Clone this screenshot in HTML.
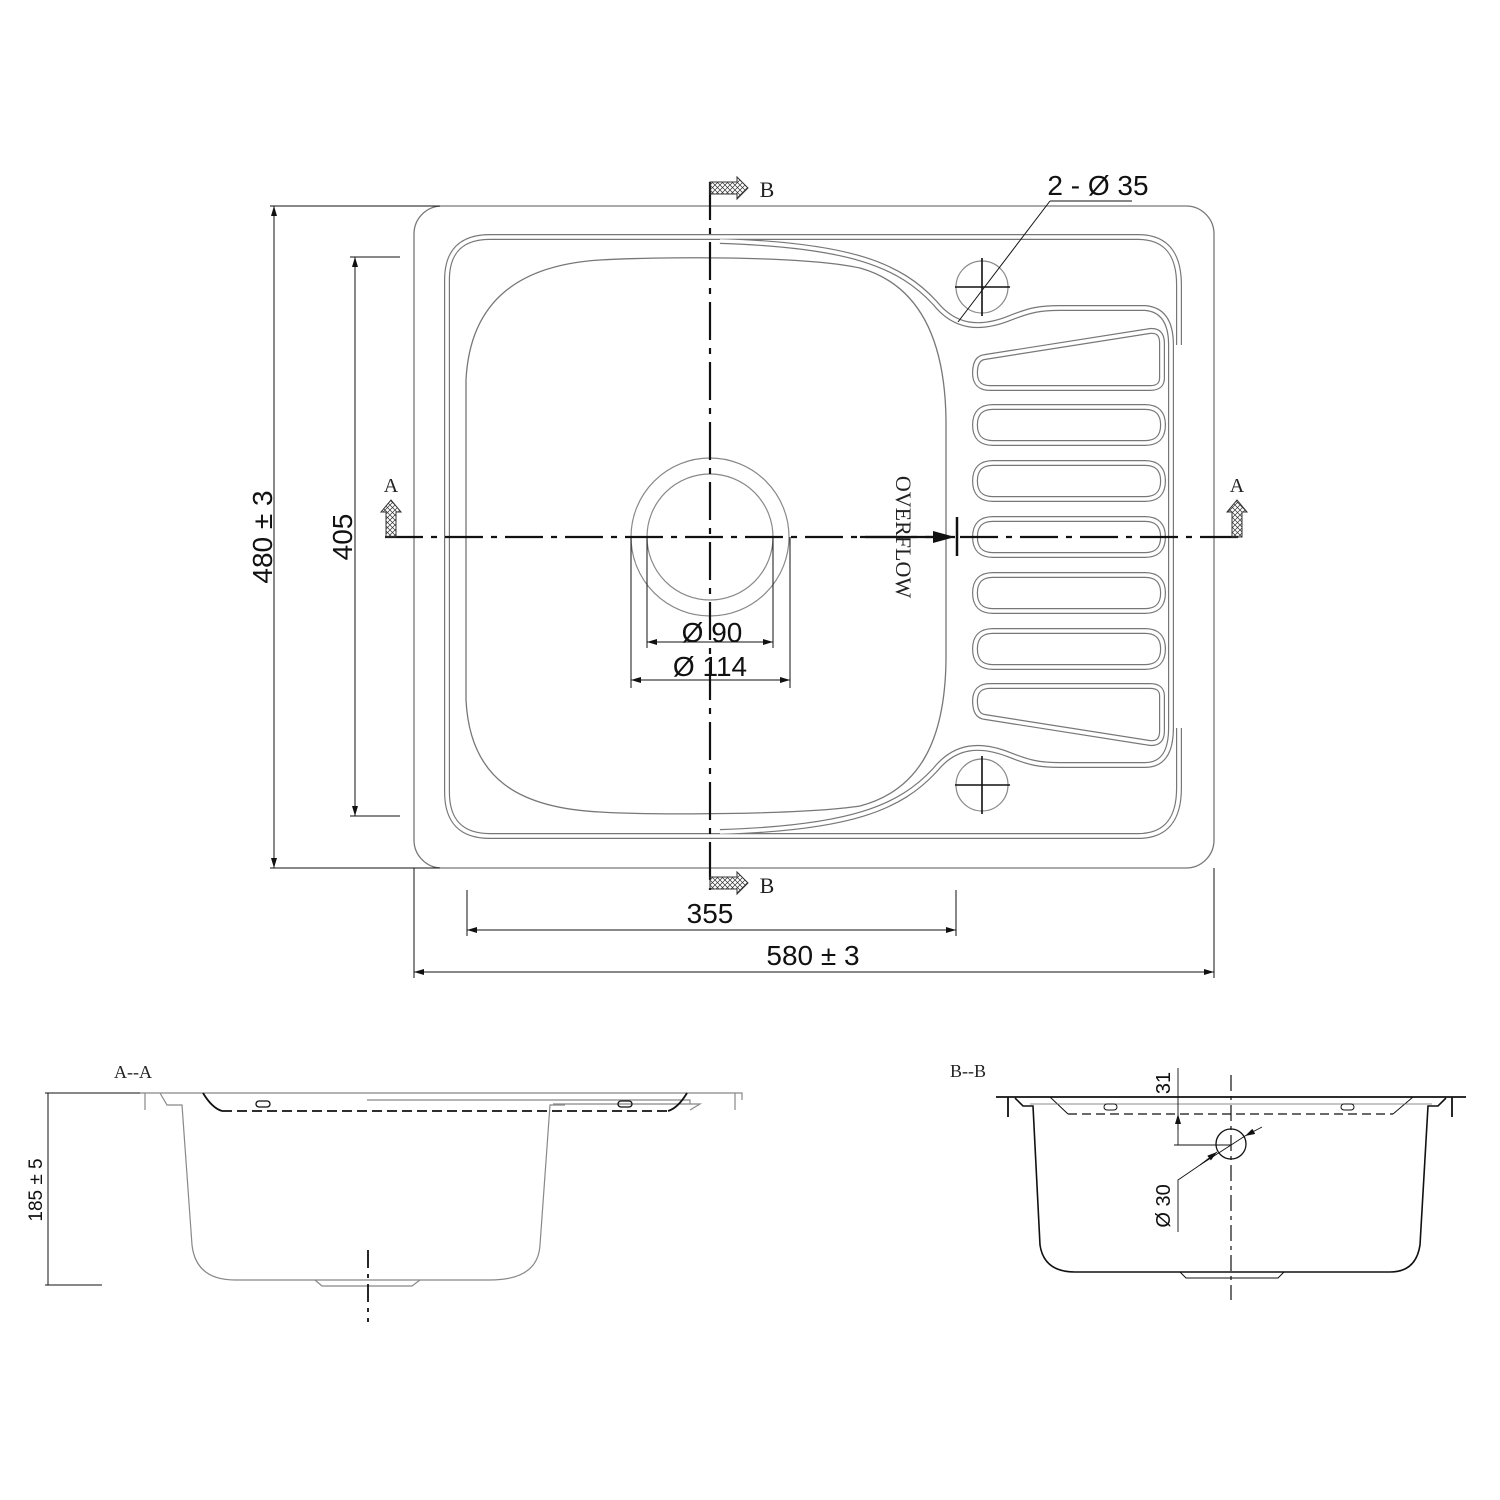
<!DOCTYPE html>
<html><head><meta charset="utf-8"><style>
html,body{margin:0;padding:0;background:#fff}
svg{display:block}
.s{font-family:"Liberation Sans",sans-serif;fill:#111}
.r{font-family:"Liberation Serif",serif;fill:#222}
</style></head><body>
<svg width="1500" height="1500" viewBox="0 0 1500 1500" xmlns="http://www.w3.org/2000/svg">
<defs>
<pattern id="h" width="5" height="5" patternUnits="userSpaceOnUse">
<path d="M0,0L5,5M5,0L0,5" stroke="#333" stroke-width="0.7"/>
</pattern>
<marker id="ar" markerWidth="10" markerHeight="6" refX="10" refY="3" orient="auto" markerUnits="userSpaceOnUse"><path d="M0,0L10,3L0,6z" fill="#111"/></marker>
<marker id="al" markerWidth="10" markerHeight="6" refX="0" refY="3" orient="auto" markerUnits="userSpaceOnUse"><path d="M10,0L0,3L10,6z" fill="#111"/></marker>
<marker id="big" markerWidth="22" markerHeight="12" refX="22" refY="6" orient="auto" markerUnits="userSpaceOnUse"><path d="M0,0L22,6L0,12z" fill="#111"/></marker>
</defs>

<!-- outer rim -->
<rect x="414" y="206" width="800" height="662" rx="28" fill="none" stroke="#777" stroke-width="1.3"/>

<!-- double groove lines -->
<g fill="none">
<g stroke="#777" stroke-width="6">
<path d="M720,237 L490,237 Q447,237 447,280 L447,792 Q447,836 490,836 L720,836"/>
<path d="M720,237 L1138,237 Q1179,237 1179,285 L1179,345"/>
<path d="M720,836 L1138,836 Q1179,836 1179,788 L1179,728"/>
<path d="M720,241 C850,245 900,265 935,303 C955,328 980,330 1010,318 C1030,310 1040,308 1060,308 L1145,308 Q1171,310 1171,345 L1171,728 Q1171,765 1145,765 L1060,765 C1040,765 1030,763 1010,755 C980,743 955,745 935,770 C900,808 850,828 720,832"/>
<path d="M985,357 L1150,331 Q1162,330 1162,343 L1162,378 Q1162,388 1150,388 L990,388 Q975,388 975,373 Q975,358 985,357 Z"/>
<path d="M993,407 L1145,407 Q1163,407 1163,425 Q1163,443 1145,443 L993,443 Q975,443 975,425 Q975,407 993,407 Z"/>
<path d="M993,463 L1145,463 Q1163,463 1163,481 Q1163,499 1145,499 L993,499 Q975,499 975,481 Q975,463 993,463 Z"/>
<path d="M993,519 L1145,519 Q1163,519 1163,537 Q1163,555 1145,555 L993,555 Q975,555 975,537 Q975,519 993,519 Z"/>
<path d="M993,575 L1145,575 Q1163,575 1163,593 Q1163,611 1145,611 L993,611 Q975,611 975,593 Q975,575 993,575 Z"/>
<path d="M993,631 L1145,631 Q1163,631 1163,649 Q1163,667 1145,667 L993,667 Q975,667 975,649 Q975,631 993,631 Z"/>
<path d="M985,717 L1150,743 Q1162,744 1162,731 L1162,696 Q1162,686 1150,686 L990,686 Q975,686 975,701 Q975,716 985,717 Z"/>
</g>
<g stroke="#fff" stroke-width="3.6">
<path d="M720,237 L490,237 Q447,237 447,280 L447,792 Q447,836 490,836 L720,836"/>
<path d="M720,237 L1138,237 Q1179,237 1179,285 L1179,345"/>
<path d="M720,836 L1138,836 Q1179,836 1179,788 L1179,728"/>
<path d="M720,241 C850,245 900,265 935,303 C955,328 980,330 1010,318 C1030,310 1040,308 1060,308 L1145,308 Q1171,310 1171,345 L1171,728 Q1171,765 1145,765 L1060,765 C1040,765 1030,763 1010,755 C980,743 955,745 935,770 C900,808 850,828 720,832"/>
<path d="M985,357 L1150,331 Q1162,330 1162,343 L1162,378 Q1162,388 1150,388 L990,388 Q975,388 975,373 Q975,358 985,357 Z"/>
<path d="M993,407 L1145,407 Q1163,407 1163,425 Q1163,443 1145,443 L993,443 Q975,443 975,425 Q975,407 993,407 Z"/>
<path d="M993,463 L1145,463 Q1163,463 1163,481 Q1163,499 1145,499 L993,499 Q975,499 975,481 Q975,463 993,463 Z"/>
<path d="M993,519 L1145,519 Q1163,519 1163,537 Q1163,555 1145,555 L993,555 Q975,555 975,537 Q975,519 993,519 Z"/>
<path d="M993,575 L1145,575 Q1163,575 1163,593 Q1163,611 1145,611 L993,611 Q975,611 975,593 Q975,575 993,575 Z"/>
<path d="M993,631 L1145,631 Q1163,631 1163,649 Q1163,667 1145,667 L993,667 Q975,667 975,649 Q975,631 993,631 Z"/>
<path d="M985,717 L1150,743 Q1162,744 1162,731 L1162,696 Q1162,686 1150,686 L990,686 Q975,686 975,701 Q975,716 985,717 Z"/>
</g>
<!-- bowl inner -->
<path d="M600,260 C650,257 800,255 860,268 C920,285 945,340 946,420 L946,660 C945,740 920,790 860,806 C800,815 650,815 600,812 C520,808 470,780 466,700 L466,380 C470,300 520,265 600,260 Z" stroke="#777" stroke-width="1.3"/>
</g>

<!-- faucet holes -->
<g fill="none">
<circle cx="982" cy="287" r="26" stroke="#888" stroke-width="1.2"/>
<circle cx="982" cy="785" r="26" stroke="#888" stroke-width="1.2"/>
<path d="M955,287H1010M982,258V316M955,785H1010M982,756V814" stroke="#111" stroke-width="1.6"/>
<path d="M1050,201H1132M1050,201L958,322" stroke="#111" stroke-width="1"/>
</g>
<text x="1098" y="195" class="s" font-size="28" text-anchor="middle">2 - Ø 35</text>

<!-- drain -->
<circle cx="710" cy="537" r="79" fill="none" stroke="#888" stroke-width="1.2"/>
<circle cx="710" cy="537" r="63" fill="none" stroke="#888" stroke-width="1.2"/>
<g stroke="#111" stroke-width="1" fill="none">
<path d="M647,537V648M773,537V648M631,537V688M790,537V688"/>
<path d="M647,642H773" marker-start="url(#al)" marker-end="url(#ar)"/>
<path d="M631,680H790" marker-start="url(#al)" marker-end="url(#ar)"/>
</g>
<text x="712" y="642" class="s" font-size="28" text-anchor="middle">Ø 90</text>
<text x="710" y="676" class="s" font-size="28" text-anchor="middle">Ø 114</text>

<!-- center lines -->
<g stroke="#111" stroke-width="2.2" fill="none">
<path d="M710,182V890" stroke-dasharray="38,8,6,8"/>
<path d="M385,537H940" stroke-dasharray="38,8,6,8"/>
<path d="M960,537H1243" stroke-dasharray="38,8,6,8"/>
<path d="M860,537H955" marker-end="url(#big)"/>
<path d="M957,517V556" stroke-width="2.5"/>
</g>
<text transform="translate(896,537) rotate(90)" class="r" font-size="22" text-anchor="middle">OVERFLOW</text>

<!-- section markers -->
<g stroke="#333" stroke-width="1" fill="url(#h)">
<path d="M386,537V512H381L391,500L401,512H396V537Z"/>
<path d="M1232,537V512H1227L1237,500L1247,512H1242V537Z"/>
<path d="M710,182H737V177L748,188L737,199V194H710Z"/>
<path d="M710,877H737V872L748,883L737,894V889H710Z"/>
</g>
<text x="391" y="492" class="r" font-size="20" text-anchor="middle">A</text>
<text x="1237" y="492" class="r" font-size="20" text-anchor="middle">A</text>
<text x="767" y="197" class="r" font-size="22" text-anchor="middle">B</text>
<text x="767" y="893" class="r" font-size="22" text-anchor="middle">B</text>

<!-- dimensions -->
<g stroke="#111" stroke-width="1" fill="none">
<path d="M270,206H440M270,868H440"/>
<path d="M274,206V868" marker-start="url(#al)" marker-end="url(#ar)"/>
<path d="M350,257H400M350,816H400"/>
<path d="M355,257V816" marker-start="url(#al)" marker-end="url(#ar)"/>
<path d="M467,890V936M956,890V936"/>
<path d="M467,930H956" marker-start="url(#al)" marker-end="url(#ar)"/>
<path d="M414,868V978M1214,868V978"/>
<path d="M414,972H1214" marker-start="url(#al)" marker-end="url(#ar)"/>
</g>
<text transform="translate(272,537) rotate(-90)" class="s" font-size="28" text-anchor="middle">480 ± 3</text>
<text transform="translate(352,537) rotate(-90)" class="s" font-size="28" text-anchor="middle">405</text>
<text x="710" y="923" class="s" font-size="28" text-anchor="middle">355</text>
<text x="813" y="965" class="s" font-size="28" text-anchor="middle">580 ± 3</text>

<!-- Section A-A -->
<text x="133" y="1078" class="r" font-size="18" text-anchor="middle">A--A</text>
<g fill="none" stroke="#888" stroke-width="1.2">
<path d="M140,1093H742V1100M145,1093V1110M735,1093V1110"/>
<path d="M160,1093L167,1105H182L192,1245Q196,1280 235,1280L490,1280Q538,1280 540,1245L550,1105H565"/>
<path d="M315,1280L322,1286H412L420,1280"/>
<path d="M367,1100H690V1104"/>
<path d="M553,1104H700L690,1110"/>
</g>
<g fill="none" stroke="#111" stroke-width="1.8">
<path d="M203,1093Q212,1108 222,1111"/>
<path d="M668,1111Q678,1108 687,1093"/>
<path d="M222,1111H668" stroke-dasharray="10,5"/>
<rect x="256" y="1101" width="14" height="6" rx="3" stroke-width="1.3"/>
<rect x="618" y="1101" width="14" height="6" rx="3" stroke-width="1.3"/>
<path d="M368,1250V1322" stroke-dasharray="18,6,4,6"/>
</g>
<g stroke="#111" stroke-width="1" fill="none">
<path d="M45,1093H140M45,1285H102"/>
<path d="M48,1093V1285"/>
</g>
<text transform="translate(42,1190) rotate(-90)" class="s" font-size="19" text-anchor="middle">185 ± 5</text>

<!-- Section B-B -->
<text x="968" y="1077" class="r" font-size="18" text-anchor="middle">B--B</text>
<g fill="none" stroke="#111" stroke-width="1.8">
<path d="M996,1097H1466"/>
<path d="M1008,1097V1117M1452,1097V1117"/>
<path d="M1015,1098L1023,1106H1033L1040,1245Q1044,1272 1075,1272L1390,1272Q1416,1272 1420,1245L1428,1106H1438L1446,1098" stroke-width="1.6"/>
<path d="M1050,1097L1068,1114M1413,1097L1393,1114" stroke-width="1"/>
<path d="M1068,1114H1393" stroke-dasharray="9,5" stroke-width="1.2"/>
<path d="M1030,1104H1432" stroke-width="0.8" stroke="#666"/>
<rect x="1104" y="1104" width="13" height="6" rx="3" stroke-width="1"/>
<rect x="1341" y="1104" width="13" height="6" rx="3" stroke-width="1"/>
<path d="M1180,1272L1186,1278H1278L1284,1272" stroke-width="1"/>
<path d="M1231,1075V1300" stroke-dasharray="16,5,4,5" stroke-width="1.2"/>
<circle cx="1231" cy="1144" r="15" stroke-width="1.3"/>
</g>
<g stroke="#111" stroke-width="0.9" fill="none">
<path d="M1178,1068V1145M1174,1145H1231"/>
<path d="M1178,1130V1114" marker-end="url(#ar)"/>
<path d="M1262,1127L1245,1136" marker-end="url(#ar)"/>
<path d="M1200,1165L1217,1152" marker-end="url(#ar)"/>
<path d="M1245,1136L1200,1165L1178,1180V1232"/>
</g>
<text transform="translate(1170,1083) rotate(-90)" class="s" font-size="20" text-anchor="middle">31</text>
<text transform="translate(1170,1206) rotate(-90)" class="s" font-size="20" text-anchor="middle">Ø 30</text>
</svg>
</body></html>
